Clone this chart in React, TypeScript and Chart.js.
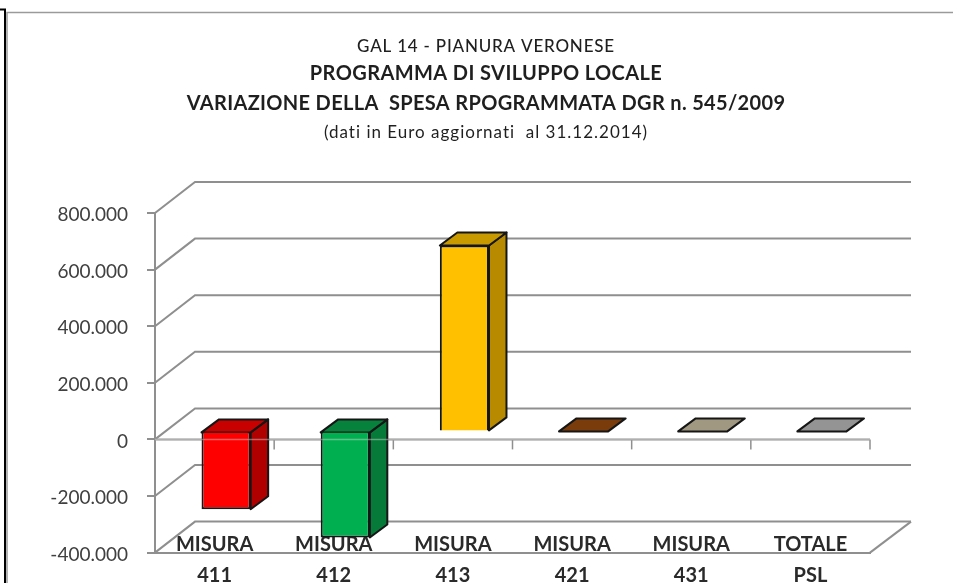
import React, { useEffect, useRef } from "react";
import { Chart, registerables } from "chart.js";

Chart.register(...registerables);

const categories = [["MISURA", "411"], ["MISURA", "412"], ["MISURA", "413"], ["MISURA", "421"], ["MISURA", "431"], ["TOTALE", "PSL"]];
const values = [-275000, -375000, 657000, 0, 0, 0];
const frontColors = ["#ff0000", "#00b050", "#ffc000", "#7f3f0c", "#a39a82", "#969696"];
const sideColors = ["#b00000", "#067a38", "#b88a00", "#5c2d08", "#7a7362", "#707070"];
const topColors = ["#c80000", "#06823c", "#c89a00", "#7a3c0a", "#a09880", "#949494"];
const titleLines = [
  { text: "GAL 14 - PIANURA VERONESE", font: "500 17px Lato", spacing: "0.8px", y: 46.5 },
  { text: "PROGRAMMA DI SVILUPPO LOCALE", font: "bold 20px Lato", spacing: "0.4px", y: 73.5 },
  { text: "VARIAZIONE DELLA  SPESA RPOGRAMMATA DGR n. 545/2009", font: "bold 20px Lato", spacing: "0.33px", y: 103.5 },
  { text: "(dati in Euro aggiornati  al 31.12.2014)", font: "17px Lato", spacing: "1px", y: 132.5 },
];

const GRID = "#8f8f8f";
const WALL_DX = 40;
const WALL_DY = 31;
const BAR_DX = 11.5;
const BAR_DY = 8;
const DEPTH_DX = 17.5;
const DEPTH_DY = 13;

const line = (ctx: CanvasRenderingContext2D, pts: number[][]) => {
  ctx.beginPath();
  pts.forEach(([x, y], i) => (i ? ctx.lineTo(x, y) : ctx.moveTo(x, y)));
  ctx.stroke();
};

const chrome = {
  id: "chrome",
  beforeDraw(chart: any) {
    const { ctx, width, height } = chart;
    ctx.save();
    ctx.fillStyle = "#fff";
    ctx.fillRect(0, 0, width, height);
    ctx.lineWidth = 2;
    ctx.strokeStyle = "#000";
    line(ctx, [[0, 9.5], [5, 9.5], [5, height]]);
    ctx.lineWidth = 1.5;
    ctx.strokeStyle = "#9a9a9a";
    line(ctx, [[7, height], [7, 12.5], [width, 12.5]]);
    ctx.fillStyle = "#1f1f1f";
    ctx.textAlign = "center";
    ctx.textBaseline = "middle";
    titleLines.forEach((t) => {
      ctx.font = t.font;
      ctx.letterSpacing = t.spacing;
      ctx.fillText(t.text, 486, t.y);
    });
    ctx.letterSpacing = "0px";
    ctx.restore();
  },
};

const walls = {
  id: "walls",
  beforeDatasetsDraw(chart: any) {
    const { ctx } = chart;
    const { x, y } = chart.scales;
    const l = x.left;
    const r = x.right;
    ctx.save();
    ctx.strokeStyle = GRID;
    ctx.lineWidth = 2;
    y.ticks.forEach((t: any) => {
      const py = y.getPixelForValue(t.value);
      line(ctx, [[l, py], [l + WALL_DX, py - WALL_DY], [r + WALL_DX + 1, py - WALL_DY]]);
    });
    const floor = y.getPixelForValue(y.min);
    line(ctx, [[r, floor], [r + WALL_DX + 1, floor - WALL_DY]]);
    const zero = y.getPixelForValue(0);
    line(ctx, [[l, zero], [r, zero]]);
    ctx.lineWidth = 1.5;
    categories.forEach((_, i) => {
      const px = x.getPixelForValue(i) + (r - l) / categories.length / 2;
      line(ctx, [[px, zero], [px, zero + 10]]);
    });
    ctx.restore();
  },
};

const bars3d = {
  id: "bars3d",
  beforeDatasetDraw(chart: any) {
    const { ctx } = chart;
    ctx.save();
    ctx.strokeStyle = "#161616";
    ctx.lineWidth = 2;
    ctx.lineJoin = "round";
    chart.getDatasetMeta(0).data.forEach((el: any, i: number) => {
      const left = el.x - el.width / 2 + BAR_DX;
      const right = el.x + el.width / 2 + BAR_DX;
      const top = Math.min(el.y, el.base) - BAR_DY;
      const bottom = Math.max(el.y, el.base) - BAR_DY;
      const face = (pts: number[][], color: string) => {
        ctx.fillStyle = color;
        ctx.beginPath();
        pts.forEach(([a, b], k) => (k ? ctx.lineTo(a, b) : ctx.moveTo(a, b)));
        ctx.closePath();
        ctx.fill();
        ctx.stroke();
      };
      if (bottom > top) {
        face([[right, top], [right + DEPTH_DX, top - DEPTH_DY], [right + DEPTH_DX, bottom - DEPTH_DY], [right, bottom]], sideColors[i]);
      }
      face([[left, top], [left + DEPTH_DX, top - DEPTH_DY], [right + DEPTH_DX, top - DEPTH_DY], [right, top]], topColors[i]);
    });
    ctx.restore();
    ctx.save();
    ctx.translate(BAR_DX, -BAR_DY);
  },
  afterDatasetDraw(chart: any) {
    const { ctx } = chart;
    ctx.restore();
    const { x, y } = chart.scales;
    const zero = y.getPixelForValue(0);
    ctx.save();
    ctx.strokeStyle = "rgba(215,215,215,0.45)";
    ctx.lineWidth = 1.5;
    line(ctx, [[x.left, zero], [x.right, zero]]);
    ctx.restore();
  },
};

export default function App() {
  const ref = useRef<HTMLCanvasElement>(null);
  useEffect(() => {
    const chart = new Chart(ref.current!, {
      type: "bar",
      data: {
        labels: categories,
        datasets: [
          {
            data: values,
            backgroundColor: frontColors,
            borderColor: "#161616",
            borderWidth: 2,
            barPercentage: 0.62,
            categoryPercentage: 0.665,
          },
        ],
      },
      options: {
        responsive: false,
        animation: false,
        layout: { padding: { top: 213, right: 83, left: 0, bottom: 0 } },
        plugins: { legend: { display: false }, title: { display: false }, tooltip: { enabled: false } },
        scales: {
          x: {
            z: 1,
            grid: { display: false },
            border: { display: true, color: GRID, width: 2 },
            ticks: {
              autoSkip: false,
              maxRotation: 0,
              mirror: true,
              padding: -7,
              color: "#2a2a2a",
              font: { family: "Lato", size: 20, weight: "bold", lineHeight: 1.55 },
            },
            afterFit: (s: any) => {
              s.height = 30;
            },
          },
          y: {
            min: -400000,
            max: 800000,
            grid: { drawOnChartArea: false, color: GRID, lineWidth: 2, tickLength: 8 },
            border: { color: GRID, width: 2 },
            ticks: {
              stepSize: 200000,
              padding: 19,
              labelOffset: 2,
              color: "#404040",
              font: { family: "Lato", size: 19 },
              callback: (v: any) => String(v).replace(/\B(?=(\d{3})+$)/g, "."),
            },
            afterFit: (s: any) => {
              s.width = 155;
            },
          },
        },
      },
      plugins: [chrome, walls, bars3d],
    } as any);
    return () => chart.destroy();
  }, []);
  return (
    <canvas ref={ref} width={953} height={583} style={{ position: "absolute", left: 0, top: 0, display: "block" }} />
  );
}
